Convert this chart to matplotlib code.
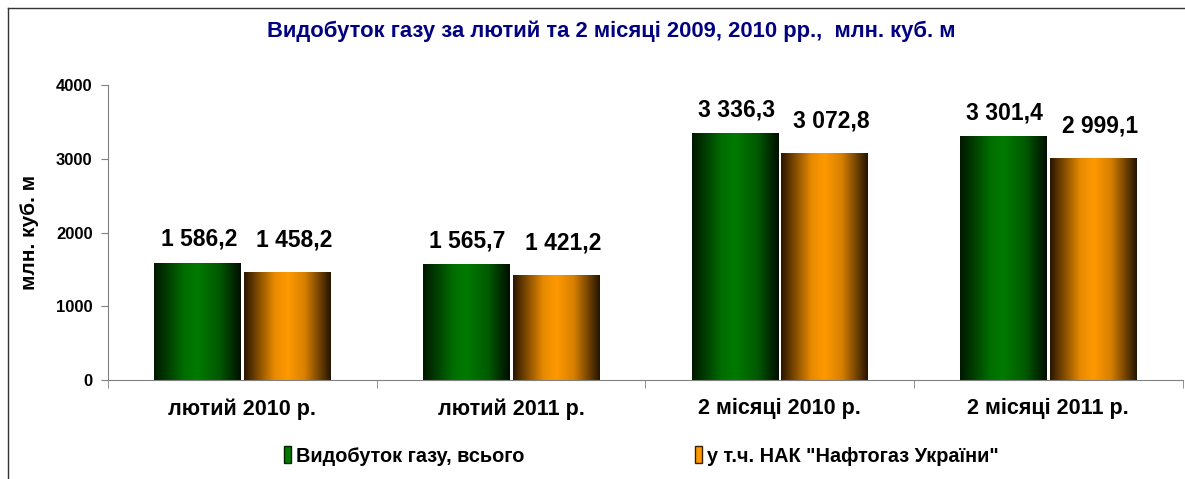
import matplotlib.pyplot as plt
import numpy as np
from matplotlib.colors import LinearSegmentedColormap
from matplotlib.patches import Rectangle
from matplotlib.lines import Line2D

plt.rcParams['font.family'] = ['Liberation Sans', 'DejaVu Sans']
plt.rcParams['font.weight'] = 'bold'

categories = ['лютий 2010 р.', 'лютий 2011 р.', '2 місяці 2010 р.', '2 місяці 2011 р.']
total = [1586.2, 1565.7, 3336.3, 3301.4]
naftogaz = [1458.2, 1421.2, 3072.8, 2999.1]
series_names = ['Видобуток газу, всього', 'у т.ч. НАК "Нафтогаз України"']

green_cmap = LinearSegmentedColormap.from_list(
    'g', [(0, '#001800'), (0.35, '#006e00'), (0.5, '#007a00'), (0.75, '#005a00'), (1, '#000e00')])
orange_cmap = LinearSegmentedColormap.from_list(
    'o', [(0, '#2a1600'), (0.35, '#e88a00'), (0.5, '#ff9900'), (0.7, '#d88000'), (1, '#241400')])


def fmt(v):
    s = f'{v:,.1f}'
    return s.replace(',', ' ').replace('.', ',')


fig = plt.figure(figsize=(11.85, 4.79), dpi=100)
ax = fig.add_axes([0.0911, 0.2067, 0.9069, 0.6158])

x = np.arange(len(categories))
w = 0.322
gap = 0.012
grad = np.linspace(0, 1, 256).reshape(1, -1)

# (values, bar offset, colormap, label offset in points)
series = [(total, -(w + gap) / 2, green_cmap, (1, 9)),
          (naftogaz, (w + gap) / 2, orange_cmap, (5, 15))]

for vals, off, cmap, lab_off in series:
    bars = ax.bar(x + off, vals, width=w, color='none', zorder=2)
    for b, v in zip(bars, vals):
        x0 = b.get_x()
        ax.imshow(grad, cmap=cmap, extent=(x0, x0 + b.get_width(), 0, b.get_height()),
                  aspect='auto', zorder=2, interpolation='bilinear')
        ax.annotate(fmt(v), (b.get_x() + b.get_width() / 2, b.get_height()),
                    xytext=lab_off, textcoords='offset points', ha='center', va='bottom',
                    fontsize=16.5, fontweight='bold', color='black')

ax.set_xlim(-0.5, len(categories) - 0.5)
ax.set_ylim(0, 4000)
ax.set_yticks([0, 1000, 2000, 3000, 4000])
ax.set_xticks(x)
ax.set_xticklabels(categories, fontsize=15.5, fontweight='bold')
ax.set_xticks(np.arange(len(categories) + 1) - 0.5, minor=True)
ax.tick_params(axis='x', which='major', length=0, pad=13)
ax.tick_params(axis='x', which='minor', length=6, color='#808080')
ax.tick_params(axis='y', length=5, color='#808080', labelsize=12, pad=6)
for lab in ax.get_yticklabels():
    lab.set_fontweight('bold')
ax.set_ylabel('млн. куб. м', fontsize=15, fontweight='bold', labelpad=12)
for s in ['top', 'right']:
    ax.spines[s].set_visible(False)
for s in ['left', 'bottom']:
    ax.spines[s].set_color('#808080')

fig.text(0.516, 0.935, 'Видобуток газу за лютий та 2 місяці 2009, 2010 рр.,  млн. куб. м',
         ha='center', va='center', fontsize=15.8, fontweight='bold', color='#000080')

handles = [Rectangle((0, 0), 1, 1, facecolor='#007a00', edgecolor='#002000'),
           Rectangle((0, 0), 1, 1, facecolor='#ff9900', edgecolor='#3a2000')]
fig.legend(handles, series_names, loc='center', bbox_to_anchor=(0.541, 0.048), ncol=2,
           frameon=False, handlelength=0.35, handleheight=0.9,
           handletextpad=0.25, columnspacing=8.6, prop={'weight': 'bold', 'size': 14.3})

fig.add_artist(Line2D([8 / 1185, 8 / 1185], [0, 1 - 8 / 479], transform=fig.transFigure,
                      color='#333333', lw=1))
fig.add_artist(Line2D([8 / 1185, 1], [1 - 8 / 479, 1 - 8 / 479], transform=fig.transFigure,
                      color='#333333', lw=1))

fig.savefig('out.png', dpi=100)
